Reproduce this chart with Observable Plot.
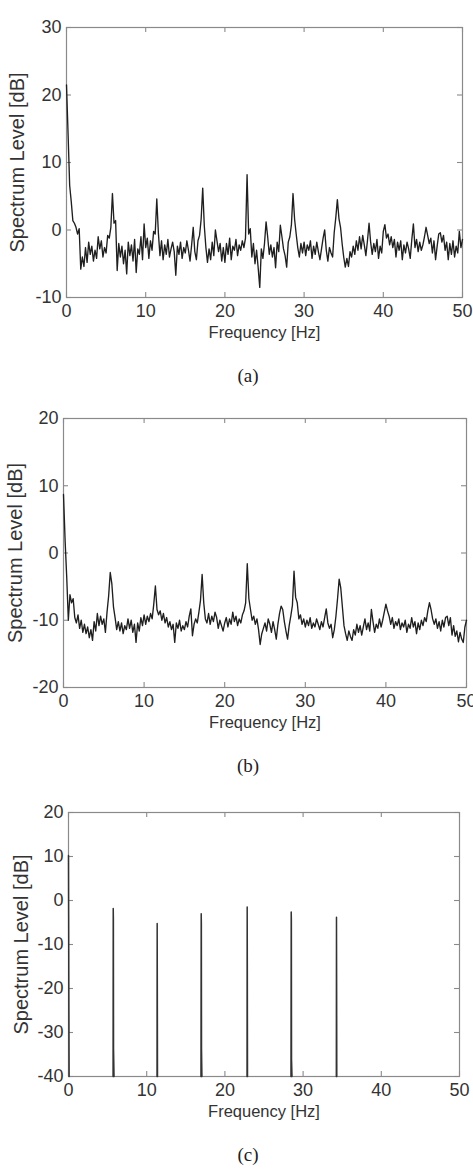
<!DOCTYPE html>
<html>
<head>
<meta charset="utf-8">
<script src="https://cdn.jsdelivr.net/npm/d3@7"></script>
<script src="https://cdn.jsdelivr.net/npm/@observablehq/plot@0.6"></script>
<style>
  body { margin: 0; background: #fff; }
  #fig { position: relative; width: 473px; height: 1170px; overflow: hidden; }
  .panel { position: absolute; left: 0; }
  .cap {
    position: absolute; left: 248px; transform: translate(-50%, -50%);
    font-family: "Liberation Serif", "Times New Roman", serif; font-size: 19px; color: #222;
    white-space: nowrap;
  }
</style>
</head>
<body>
<div id="fig"></div>
<script>
// Frequency axis, tick values and labels
const xTicks = [0, 10, 20, 30, 40, 50];
const yTicksA = [-10, 0, 10, 20, 30];
const yTicksB = [-20, -10, 0, 10, 20];
const yTicksC = [-40, -30, -20, -10, 0, 10, 20];
const xLabel = "Frequency [Hz]";
const yLabel = "Spectrum Level [dB]";
const captions = ["(a)", "(b)", "(c)"];

// Spectrum bins for (a) and (b): 0 to 50 Hz, 0.2 Hz resolution
const binHz = 0.2;

// (a) measured spectrum level, dB
const levelA = [
  21.5,14.2,6.6,4.2,1.4,1.0,0.4,-0.6,0.2,-5.8,
  -4.0,-5.4,-2.6,-4.8,-1.8,-3.6,-2.4,-4.6,-3.0,-4.2,
  -1.0,-2.8,-1.6,-4.0,-2.6,-3.4,-0.8,-1.2,0.4,5.4,
  1.0,1.4,-6.0,-2.0,-4.0,-2.4,-5.0,-3.0,-6.5,-1.8,
  -3.8,-2.2,-4.6,-1.4,-6.3,-2.8,-3.6,-1.0,-4.4,0.9,
  -2.6,-1.2,-4.2,-1.6,-3.0,-0.2,-0.6,4.6,-0.4,-3.8,
  -1.6,-4.4,-2.2,-3.6,-1.4,-4.0,-2.8,-1.8,-3.2,-6.7,
  -2.4,-3.6,-1.8,-4.2,-2.6,-3.4,-1.6,-3.0,-4.6,-2.2,
  0.4,-3.2,-4.4,-1.6,-0.8,1.6,6.2,0.6,-2.6,-4.8,
  -2.8,-4.4,-1.8,-3.8,0.0,-1.6,-3.2,-2.0,-4.6,-2.6,
  -4.8,-2.0,-3.6,-1.2,-4.4,-2.4,-3.0,-1.4,-3.8,-2.2,
  -3.0,-1.6,-2.6,-1.2,8.2,-0.6,0.2,-4.0,-2.0,-5.0,
  -3.0,-5.6,-8.5,-2.8,-4.2,-2.0,1.2,-1.0,-3.6,-2.2,
  -4.0,-2.6,-5.6,-1.8,-3.2,0.7,-1.0,-2.8,-3.8,-5.5,
  -1.8,-1.0,0.8,5.4,1.6,-0.6,-2.6,-4.0,-2.0,-3.4,
  -1.8,-3.8,-2.2,-3.0,-1.6,-4.2,-2.4,-3.6,-1.8,-3.2,
  -4.4,-2.8,-1.2,0.0,-3.0,-4.6,-2.6,-3.4,-4.0,-0.4,
  1.8,4.5,1.7,0.4,-2.0,-4.0,-5.5,-4.2,-5.4,-3.2,
  -4.0,-2.4,-3.6,-1.6,-3.0,-1.0,-2.8,-0.8,-2.2,-3.8,
  -1.6,1.0,-1.8,-3.6,-2.0,-3.2,-1.4,-4.2,-2.4,-3.4,
  -0.2,0.8,-1.2,-0.6,-2.2,-1.0,-2.6,-1.4,-4.0,-1.8,
  -3.0,-1.6,-4.4,-2.2,-3.4,-1.8,-2.8,-4.2,-1.4,0.9,
  -2.6,-1.4,-3.2,-1.8,-3.0,-2.2,-1.0,0.4,-0.8,-2.0,
  -1.2,-3.4,-1.6,-4.4,-2.4,-0.6,-0.4,-1.8,-0.8,-3.0,
  -1.8,-4.4,-2.0,-3.6,-1.6,-4.0,-2.4,-3.4,-0.2,-2.6,
  -1.4
];

// (b) measured spectrum level, dB
const levelB = [
  8.7,1.8,-3.6,-10.0,-6.2,-7.4,-6.8,-9.6,-10.4,-9.2,
  -11.2,-10.0,-11.8,-10.6,-12.0,-11.0,-12.6,-11.4,-13.0,-10.2,
  -11.6,-9.0,-10.8,-9.4,-10.6,-9.8,-11.8,-8.8,-6.4,-2.9,
  -4.6,-8.0,-9.6,-11.4,-10.2,-11.6,-10.4,-12.0,-10.8,-11.4,
  -9.8,-11.2,-10.0,-11.8,-10.6,-13.3,-10.4,-11.6,-9.6,-10.8,
  -9.2,-10.6,-9.4,-10.2,-9.0,-9.8,-7.6,-4.9,-8.4,-9.2,
  -8.6,-10.0,-9.0,-10.4,-9.6,-11.0,-10.2,-11.4,-10.6,-13.3,
  -10.4,-11.2,-10.0,-11.6,-10.8,-11.4,-10.2,-11.0,-9.4,-8.3,
  -12.3,-10.6,-9.8,-10.4,-8.8,-7.0,-3.2,-7.4,-9.8,-10.4,
  -9.0,-10.6,-9.4,-10.2,-8.8,-9.6,-11.2,-10.0,-10.8,-11.6,
  -10.4,-9.6,-11.0,-9.8,-10.6,-8.8,-10.2,-9.4,-10.8,-9.8,
  -10.4,-9.2,-8.6,-7.4,-1.6,-6.8,-8.4,-10.0,-9.4,-10.6,
  -9.8,-11.4,-13.6,-12.0,-11.2,-10.4,-11.6,-9.8,-10.6,-11.8,
  -10.2,-11.4,-12.8,-10.6,-9.0,-7.9,-8.4,-10.2,-11.6,-12.8,
  -10.8,-9.4,-7.8,-2.7,-6.6,-7.4,-9.8,-9.2,-10.6,-9.8,
  -11.0,-10.0,-10.8,-9.6,-11.2,-10.4,-11.0,-9.8,-10.6,-11.4,
  -10.2,-11.0,-9.6,-8.3,-10.4,-11.2,-10.6,-12.6,-11.4,-9.4,
  -6.8,-3.9,-5.2,-8.0,-10.8,-12.0,-13.0,-11.6,-12.4,-13.0,
  -11.4,-12.2,-10.6,-11.8,-10.8,-12.2,-11.0,-9.8,-11.4,-10.4,
  -11.6,-8.4,-10.2,-11.8,-10.6,-11.2,-9.8,-11.0,-10.0,-8.8,
  -7.6,-8.6,-9.4,-10.6,-9.6,-11.2,-10.2,-10.8,-9.8,-11.4,
  -10.4,-11.0,-10.0,-11.8,-10.6,-11.2,-9.6,-11.0,-10.2,-12.0,
  -10.4,-11.4,-10.0,-10.8,-9.6,-10.2,-8.6,-7.4,-8.4,-9.8,
  -10.6,-9.8,-11.2,-10.2,-11.6,-10.0,-11.0,-9.6,-9.4,-10.8,
  -9.6,-12.2,-10.8,-12.4,-11.6,-13.2,-11.8,-12.8,-13.3,-11.0,
  -10.0
];

// (c) line spectrum: one stick per harmonic, each rising from the -40 dB floor
const stickC = [
  0, 0, 0, 0,
  1, 1, 1, 1, 1,
  2, 2, 2, 2,
  3, 3, 3, 3, 3,
  4, 4, 4, 4,
  5, 5, 5, 5, 5,
  6, 6, 6, 6
];
const freqC = [
  0, 0.02, 0.04, 0.08,
  5.70, 5.72, 5.74, 5.76, 5.82,
  11.32, 11.34, 11.36, 11.38,
  16.94, 16.97, 16.99, 17.01, 17.06,
  22.83, 22.85, 22.87, 22.89,
  28.45, 28.48, 28.50, 28.52, 28.58,
  34.25, 34.27, 34.29, 34.31
];
const levelC = [
  10.2, -3.4, -19.3, -40,
  -40, -1.8, -4.2, -33.7, -40,
  -40, -5.2, -20.8, -40,
  -40, -3.0, -5.2, -33.7, -40,
  -40, -1.5, -16.5, -40,
  -40, -2.6, -4.5, -36, -40,
  -40, -3.8, -20, -40
];

const binned = (levels) => levels.map((db, i) => ({f: i * binHz, db, z: 0}));
const sticks = (freqs, levels, ids) => freqs.map((f, i) => ({f, db: levels[i], z: ids[i]}));

const fig = document.getElementById("fig");
const axisGrey = "#8a8a8a";
const ink = "#333";

function panel({data, yDomain, yTicks, top, ml, mr, mt, mb, labelX, lineStroke, lineWidth}) {
  const W = 473, H = 350;
  const plotW = W - ml - mr, plotH = H - mt - mb;
  const svg = Plot.plot({
    width: W, height: H,
    marginLeft: ml, marginRight: mr, marginTop: mt, marginBottom: mb,
    style: {fontFamily: "'Liberation Sans', Arial, sans-serif", color: ink, background: "transparent", overflow: "visible"},
    x: {domain: [0, 50]},
    y: {domain: yDomain},
    marks: [
      Plot.frame({stroke: axisGrey, strokeWidth: 1.2}),
      // inward tick marks on all four sides
      Plot.tickX(xTicks, {x: d => d, stroke: axisGrey, strokeWidth: 1.1, insetTop: plotH - 5}),
      Plot.tickX(xTicks, {x: d => d, stroke: axisGrey, strokeWidth: 1.1, insetBottom: plotH - 5}),
      Plot.tickY(yTicks, {y: d => d, stroke: axisGrey, strokeWidth: 1.1, insetLeft: plotW - 5}),
      Plot.tickY(yTicks, {y: d => d, stroke: axisGrey, strokeWidth: 1.1, insetRight: plotW - 5}),
      Plot.line(data, {x: "f", y: "db", z: "z", stroke: lineStroke, strokeWidth: lineWidth}),
      Plot.axisX(xTicks, {tickSize: 0, tickPadding: 7, fontSize: 18, label: null, tickFormat: d => String(d)}),
      Plot.axisY(yTicks, {tickSize: 0, tickPadding: 5, fontSize: 18, label: null, tickFormat: d => String(d)}),
      Plot.text([xLabel], {text: d => d, frameAnchor: "bottom", dy: 40, fontSize: 16.5, fill: ink}),
      Plot.text([yLabel], {text: d => d, frameAnchor: "left", textAnchor: "middle", dx: labelX - ml, rotate: -90, fontSize: 20, fill: ink})
    ]
  });
  svg.classList.add("panel");
  svg.style.top = top + "px";
  fig.appendChild(svg);
}

panel({data: binned(levelA), yDomain: [-10, 30], yTicks: yTicksA, top: 0,
       ml: 66, mr: 11, mt: 27, mb: 53, labelX: 17, lineStroke: "#1f1f1f", lineWidth: 1.35});
panel({data: binned(levelB), yDomain: [-20, 20], yTicks: yTicksB, top: 390,
       ml: 63, mr: 7, mt: 28, mb: 53, labelX: 15, lineStroke: "#1f1f1f", lineWidth: 1.35});
panel({data: sticks(freqC, levelC, stickC), yDomain: [-40, 20], yTicks: yTicksC, top: 785,
       ml: 68, mr: 14, mt: 27, mb: 59, labelX: 21, lineStroke: "#333", lineWidth: 1.5});

// figure captions
[376, 766, 1155].forEach((y, i) => {
  const d = document.createElement("div");
  d.className = "cap";
  d.style.top = y + "px";
  d.textContent = captions[i];
  fig.appendChild(d);
});
</script>
</body>
</html>
